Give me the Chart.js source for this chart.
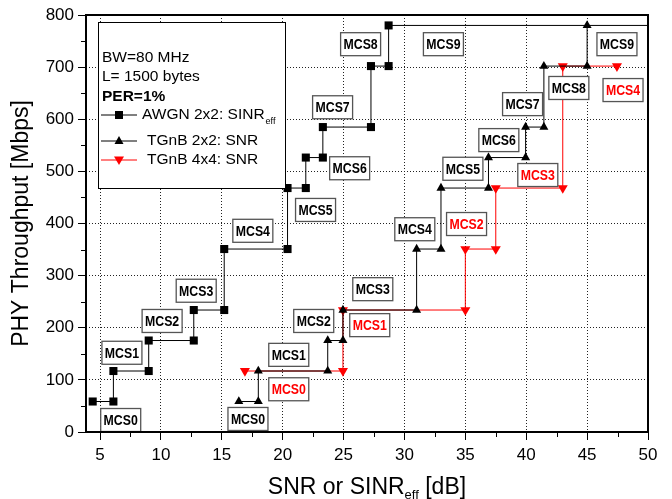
<!DOCTYPE html>
<html>
<head>
<meta charset="utf-8">
<script src="https://cdn.jsdelivr.net/npm/chart.js@4.4.1/dist/chart.umd.min.js"></script>
<style>
  html, body { margin: 0; padding: 0; background: #fff; }
</style>
</head>
<body>
<canvas id="chart" width="672" height="499"></canvas>
<script>
// PHY rates (Mbps) per MCS, 80 MHz
const rate2ss = [58.5, 117, 175.5, 234, 351, 468, 526.5, 585, 702, 780];
const rate4ss = [117, 234, 351, 468, 702];
const mcsNames = ['MCS0', 'MCS1', 'MCS2', 'MCS3', 'MCS4', 'MCS5', 'MCS6', 'MCS7', 'MCS8', 'MCS9'];

// SNR (dB) where each MCS starts
const awgnSnr = [4.4, 6.1, 9.0, 12.7, 15.2, 20.4, 21.9, 23.3, 27.25, 28.7];
const awgnLastEnd = 50;
const tgn2Snr = [16.4, 18.0, 23.7, 24.95, 31.0, 33.0, 36.9, 39.95, 41.45, 45.0];
const tgn4Snr = [16.9, 24.95, 35.0, 37.5, 43.0];
const tgn4LastEnd = 47.45;

const xTicks = [5, 10, 15, 20, 25, 30, 35, 40, 45, 50];
const yTicks = [0, 100, 200, 300, 400, 500, 600, 700, 800];

// where the MCS tags sit (data coords)
const awgnTagAt = [[6.7, 23], [6.8, 152], [10.1, 213], [12.9, 271], [17.55, 386], [22.7, 426], [25.5, 506], [24.1, 623], [26.4, 744], [33.2, 744]];
const tgn2TagAt = [[17.15, 25], [20.5, 148], [22.55, 213], [27.4, 274], [30.85, 389], [34.8, 505], [37.75, 560], [39.7, 629], [43.5, 660], [47.45, 744]];
const tgn4TagAt = [[20.5, 82], [27.15, 205], [35.1, 399], [40.95, 493], [47.95, 656]];

function steps(snr, rate, lastEnd) {
  const pts = [];
  snr.forEach((s, i) => {
    pts.push({ x: s, y: rate[i] });
    const e = i < snr.length - 1 ? snr[i + 1] : lastEnd;
    if (e != null) pts.push({ x: e, y: rate[i] });
  });
  return pts;
}

const FONT = '"Liberation Sans", Arial, sans-serif';

function tag(ctx, x, y, text, color) {
  const w = 40, h = 23;
  ctx.fillStyle = '#fff';
  ctx.fillRect(x - w / 2, y - h / 2, w, h);
  ctx.strokeStyle = '#555';
  ctx.lineWidth = 1.3;
  ctx.strokeRect(x - w / 2, y - h / 2, w, h);
  ctx.save();
  ctx.translate(x, y + 1);
  ctx.scale(0.82, 1);
  ctx.font = 'bold 15px ' + FONT;
  ctx.fillStyle = color;
  ctx.textAlign = 'center';
  ctx.textBaseline = 'middle';
  ctx.fillText(text, 0, 0);
  ctx.restore();
}

function marker(ctx, kind, x, y, color) {
  ctx.fillStyle = color;
  ctx.beginPath();
  if (kind === 'rect') {
    ctx.rect(x - 4, y - 4, 8, 8);
  } else if (kind === 'up') {
    ctx.moveTo(x, y - 5); ctx.lineTo(x + 4.5, y + 3); ctx.lineTo(x - 4.5, y + 3);
  } else {
    ctx.moveTo(x, y + 5); ctx.lineTo(x + 5, y - 3.5); ctx.lineTo(x - 5, y - 3.5);
  }
  ctx.closePath();
  ctx.fill();
}

const decor = {
  id: 'decor',
  afterDatasetsDraw(chart) {
    const { ctx, chartArea: ca, scales: { x, y } } = chart;
    ctx.save();
    awgnTagAt.forEach((p, i) => tag(ctx, x.getPixelForValue(p[0]), y.getPixelForValue(p[1]), mcsNames[i], '#000'));
    tgn2TagAt.forEach((p, i) => tag(ctx, x.getPixelForValue(p[0]), y.getPixelForValue(p[1]), mcsNames[i], '#000'));
    tgn4TagAt.forEach((p, i) => tag(ctx, x.getPixelForValue(p[0]), y.getPixelForValue(p[1]), mcsNames[i], '#f00'));

    // legend box
    const bx = ca.left + 12, by = ca.top + 7, bw = 187, bh = 166;
    ctx.fillStyle = '#fff';
    ctx.fillRect(bx, by, bw, bh);
    ctx.strokeStyle = '#000';
    ctx.lineWidth = 1;
    ctx.strokeRect(bx + 0.5, by + 0.5, bw, bh);
    ctx.fillStyle = '#000';
    ctx.textBaseline = 'middle';
    ctx.textAlign = 'left';
    ctx.font = '15.5px ' + FONT;
    ctx.fillText('BW=80 MHz', bx + 4, by + 36);
    ctx.fillText('L= 1500 bytes', bx + 4, by + 55);
    ctx.font = 'bold 15.5px ' + FONT;
    ctx.fillText('PER=1%', bx + 4, by + 75);
    const rows = [
      { ds: chart.data.datasets[0], kind: 'rect', y: by + 93, tx: bx + 44 },
      { ds: chart.data.datasets[1], kind: 'up', y: by + 119, tx: bx + 49 },
      { ds: chart.data.datasets[2], kind: 'down', y: by + 138, tx: bx + 49 }
    ];
    rows.forEach(r => {
      ctx.strokeStyle = r.ds.borderColor;
      ctx.lineWidth = 1;
      ctx.beginPath();
      ctx.moveTo(bx + 3, r.y); ctx.lineTo(bx + 39, r.y);
      ctx.stroke();
      marker(ctx, r.kind, bx + 21, r.y, r.ds.pointBackgroundColor);
      ctx.fillStyle = '#000';
      ctx.font = '15.5px ' + FONT;
      ctx.fillText(r.ds.label, r.tx, r.y);
    });
    // subscript for SINR_eff in the first legend row
    const w0 = ctx.measureText(chart.data.datasets[0].label).width;
    ctx.font = '9px ' + FONT;
    ctx.fillText('eff', bx + 44 + w0 + 1, by + 100);
    ctx.restore();
  },
  afterDraw(chart) {
    const { ctx, chartArea: ca, scales: { x, y } } = chart;
    ctx.save();
    // frame
    ctx.strokeStyle = '#000';
    ctx.lineWidth = 2;
    ctx.strokeRect(ca.left, ca.top, ca.right - ca.left, ca.bottom - ca.top);
    // minor ticks
    ctx.lineWidth = 1;
    ctx.beginPath();
    xTicks.slice(0, -1).forEach(v => {
      const px = Math.round(x.getPixelForValue(v + 2.5)) + 0.5;
      ctx.moveTo(px, ca.bottom); ctx.lineTo(px, ca.bottom + 5);
    });
    yTicks.slice(0, -1).forEach(v => {
      const py = Math.round(y.getPixelForValue(v + 50)) + 0.5;
      ctx.moveTo(ca.left - 5, py); ctx.lineTo(ca.left, py);
    });
    ctx.stroke();
    // axis titles
    ctx.fillStyle = '#000';
    ctx.textBaseline = 'alphabetic';
    const big = '23px ' + FONT, small = '13px ' + FONT;
    const t1 = 'SNR or SINR', t2 = ' [dB]';
    ctx.font = big;
    const w1 = ctx.measureText(t1).width, w2 = ctx.measureText(t2).width;
    ctx.font = small;
    const ws = ctx.measureText('eff').width;
    const tx = (ca.left + ca.right) / 2 - (w1 + ws + w2) / 2;
    const ty = 494;
    ctx.textAlign = 'left';
    ctx.font = big;
    ctx.fillText(t1, tx, ty);
    ctx.font = small;
    ctx.fillText('eff', tx + w1, ty + 5);
    ctx.font = big;
    ctx.fillText(t2, tx + w1 + ws, ty);
    ctx.translate(22, (ca.top + ca.bottom) / 2);
    ctx.rotate(-Math.PI / 2);
    ctx.textAlign = 'center';
    ctx.textBaseline = 'middle';
    ctx.fillText('PHY Throughput [Mbps]', 0, 0);
    ctx.restore();
  }
};

new Chart(document.getElementById('chart'), {
  type: 'line',
  data: {
    datasets: [
      {
        label: 'AWGN 2x2: SINR',
        data: steps(awgnSnr, rate2ss, awgnLastEnd),
        borderColor: '#000',
        borderWidth: 1,
        pointStyle: 'rect',
        pointRadius: c => (c.dataIndex === c.dataset.data.length - 1 ? 0 : 5.7),
        pointBackgroundColor: '#000',
        pointBorderWidth: 0,
        order: 1
      },
      {
        label: 'TGnB 2x2: SNR',
        data: steps(tgn2Snr, rate2ss, null),
        borderColor: '#000',
        borderWidth: 1,
        pointStyle: 'triangle',
        pointRadius: 5.2,
        pointBackgroundColor: '#000',
        pointBorderWidth: 0,
        order: 2
      },
      {
        label: 'TGnB 4x4: SNR',
        data: steps(tgn4Snr, rate4ss, tgn4LastEnd),
        borderColor: '#f00',
        borderWidth: 1,
        pointStyle: 'triangle',
        pointRotation: 180,
        pointRadius: 5.8,
        pointBackgroundColor: '#f00',
        pointBorderWidth: 0,
        order: 3
      }
    ]
  },
  options: {
    responsive: false,
    animation: false,
    devicePixelRatio: 1,
    layout: { padding: { left: 0, top: 15, right: 24, bottom: 0 } },
    plugins: { legend: { display: false }, tooltip: { enabled: false } },
    scales: {
      x: {
        type: 'linear',
        min: 3.85,
        max: 50,
        afterBuildTicks: s => { s.ticks = xTicks.map(v => ({ value: v })); },
        afterFit: s => { s.height = 67; },
        grid: { color: '#222', lineWidth: 1, tickLength: 8, tickColor: '#000', tickWidth: 1 },
        border: { display: false, dash: [1, 2] },
        ticks: { color: '#000', font: { family: FONT, size: 17 }, padding: 5, maxRotation: 0 }
      },
      y: {
        type: 'linear',
        min: 0,
        max: 800,
        afterBuildTicks: s => { s.ticks = yTicks.map(v => ({ value: v })); },
        afterFit: s => { s.width = 86; },
        grid: { color: '#222', lineWidth: 1, tickLength: 8, tickColor: '#000', tickWidth: 1 },
        border: { display: false, dash: [1, 2] },
        ticks: { color: '#000', font: { family: FONT, size: 17 }, padding: 4 }
      }
    }
  },
  plugins: [decor]
});
</script>
</body>
</html>
